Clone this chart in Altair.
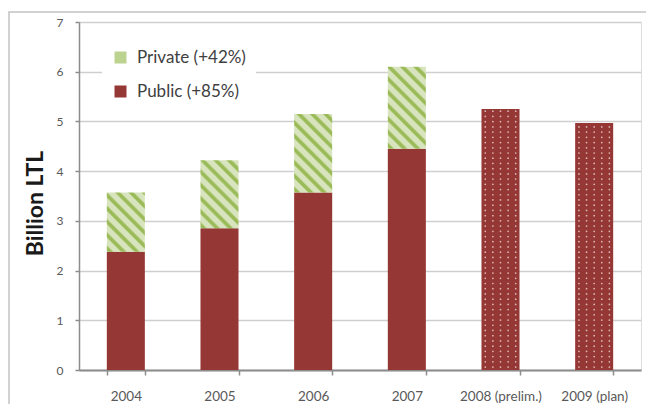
import altair as alt
import pandas as pd

# ---------------- data ----------------
years = ["2004", "2005", "2006", "2007", "2008 (prelim.)", "2009 (plan)"]
hist_years = ["2004", "2005", "2006", "2007"]
public_vals = [2.38, 2.85, 3.57, 4.45]
total_vals = [3.57, 4.22, 5.15, 6.10]
prelim_years = ["2008 (prelim.)", "2009 (plan)"]
prelim_vals = [5.25, 4.97]
series = ["Private (+42%)", "Public (+85%)"]
y_ticks = [0, 1, 2, 3, 4, 5, 6, 7]

# ---------------- style ----------------
FONT = "Lato"
RED = "#953735"
LIGHT = "#d7e4bd"
DARK = "#9bbb59"
MID_GREEN = "#bcd38f"
AXIS_GRAY = "#8c8c8c"
TEXT_GRAY = "#595959"

W, H = 562, 348
YMAX = 7
PAD_INNER = 0.594
BAR_W = W / len(years) * (1 - PAD_INNER)


def stripe_gradient(w, h, period=13.3):
    """Diagonal (top-left to bottom-right) stripe texture as a linear gradient."""
    L = w + h
    phases = [(0.0, LIGHT), (0.14, DARK), (0.38, DARK), (0.55, LIGHT)]
    stops = []
    j = 0
    while j * period <= L:
        for f, c in phases:
            s = j * period + f * period
            if s <= L:
                stops.append(alt.GradientStop(offset=s / L, color=c))
        j += 1
    k = L / (w * w + h * h)
    return alt.LinearGradient(gradient="linear", x1=0, y1=1, x2=k * w, y2=1 - k * h,
                              stops=stops)


# ---------------- encodings ----------------
xenc = alt.X(
    "year:N", sort=years,
    scale=alt.Scale(domain=years, paddingInner=PAD_INNER, paddingOuter=PAD_INNER / 2),
    axis=alt.Axis(title=None, labelAngle=0, tickBand="extent", grid=False,
                  domainColor=AXIS_GRAY, domainWidth=2, tickColor=AXIS_GRAY,
                  tickWidth=1.5, tickSize=5, labelPadding=14, labelFontSize=13.5,
                  labelColor=TEXT_GRAY, labelFont=FONT),
)
yenc = alt.Y(
    "lo:Q",
    scale=alt.Scale(domain=[0, YMAX], nice=False),
    axis=alt.Axis(values=y_ticks, title="Billion LTL", titleFont=FONT,
                  titleFontSize=23, titleFontWeight="bold", titleColor="#1a1a1a",
                  titleX=-37, titleY=181, titleBaseline="alphabetic", titleAngle=270,
                  domainColor=AXIS_GRAY, domainWidth=1.5, tickColor=AXIS_GRAY,
                  tickSize=4, tickWidth=1.5, labelPadding=12, labelFontSize=12,
                  labelColor=TEXT_GRAY, labelFont=FONT, gridColor="#cfcfcf",
                  gridWidth=1.3),
)
y2enc = alt.Y2("hi:Q")

# chart-area border
frame = alt.Chart(pd.DataFrame({"f": [0]})).mark_rect(
    fill="white", fillOpacity=0, stroke="#c4c4c4", strokeWidth=1.5
).encode(x=alt.value(-70), x2=alt.value(640), y=alt.value(-10), y2=alt.value(420))

pub_df = pd.DataFrame({"year": hist_years, "lo": [0.0] * 4, "hi": public_vals,
                       "series": [series[1]] * 4})
public = alt.Chart(pub_df).mark_bar().encode(
    x=xenc, y=yenc, y2=y2enc,
    color=alt.Color(
        "series:N", scale=alt.Scale(domain=series, range=[MID_GREEN, RED]),
        legend=alt.Legend(title=None, orient="none", legendX=23, legendY=17,
                          fillColor="white", padding=10, symbolType="square",
                          symbolSize=144, symbolStrokeWidth=0, symbolOpacity=1,
                          labelFontSize=17, labelColor="#404040", labelFont=FONT,
                          rowPadding=16, labelOffset=8),
    ),
)

layers = [frame, public]
for yr, lo, hi in zip(hist_years, public_vals, total_vals):
    h = (hi - lo) * H / YMAX
    df = pd.DataFrame({"year": [yr], "lo": [lo], "hi": [hi]})
    layers.append(
        alt.Chart(df).mark_bar(color=stripe_gradient(BAR_W, h)).encode(
            x=xenc, y=yenc, y2=y2enc)
    )

pre_df = pd.DataFrame({"year": prelim_years, "lo": [0.0, 0.0], "hi": prelim_vals})
layers.append(alt.Chart(pre_df).mark_bar(color=RED).encode(x=xenc, y=yenc, y2=y2enc))

# dotted texture for the preliminary / plan bars
rows = []
for yr, tot in zip(prelim_years, prelim_vals):
    k = 0
    while 0.06 + 0.105 * k < tot - 0.04:
        rows.append({"year": yr, "lo": 0.06 + 0.105 * k})
        k += 1
dot_df = pd.DataFrame(rows)
for c in range(5):
    layers.append(
        alt.Chart(dot_df).mark_circle(color="#f6e4e4", opacity=0.75, size=3).encode(
            x=xenc, y=yenc, xOffset=alt.value((c + 0.5) * BAR_W / 5))
    )

chart = alt.layer(*layers).properties(
    width=W, height=H,
    autosize=alt.AutoSizeParams(type="none"),
    padding={"left": 71, "top": 14, "right": 5, "bottom": 34},
).configure_view(stroke=None).configure(background="white")

chart.save("out.html", embed_options={"renderer": "svg", "actions": False})
